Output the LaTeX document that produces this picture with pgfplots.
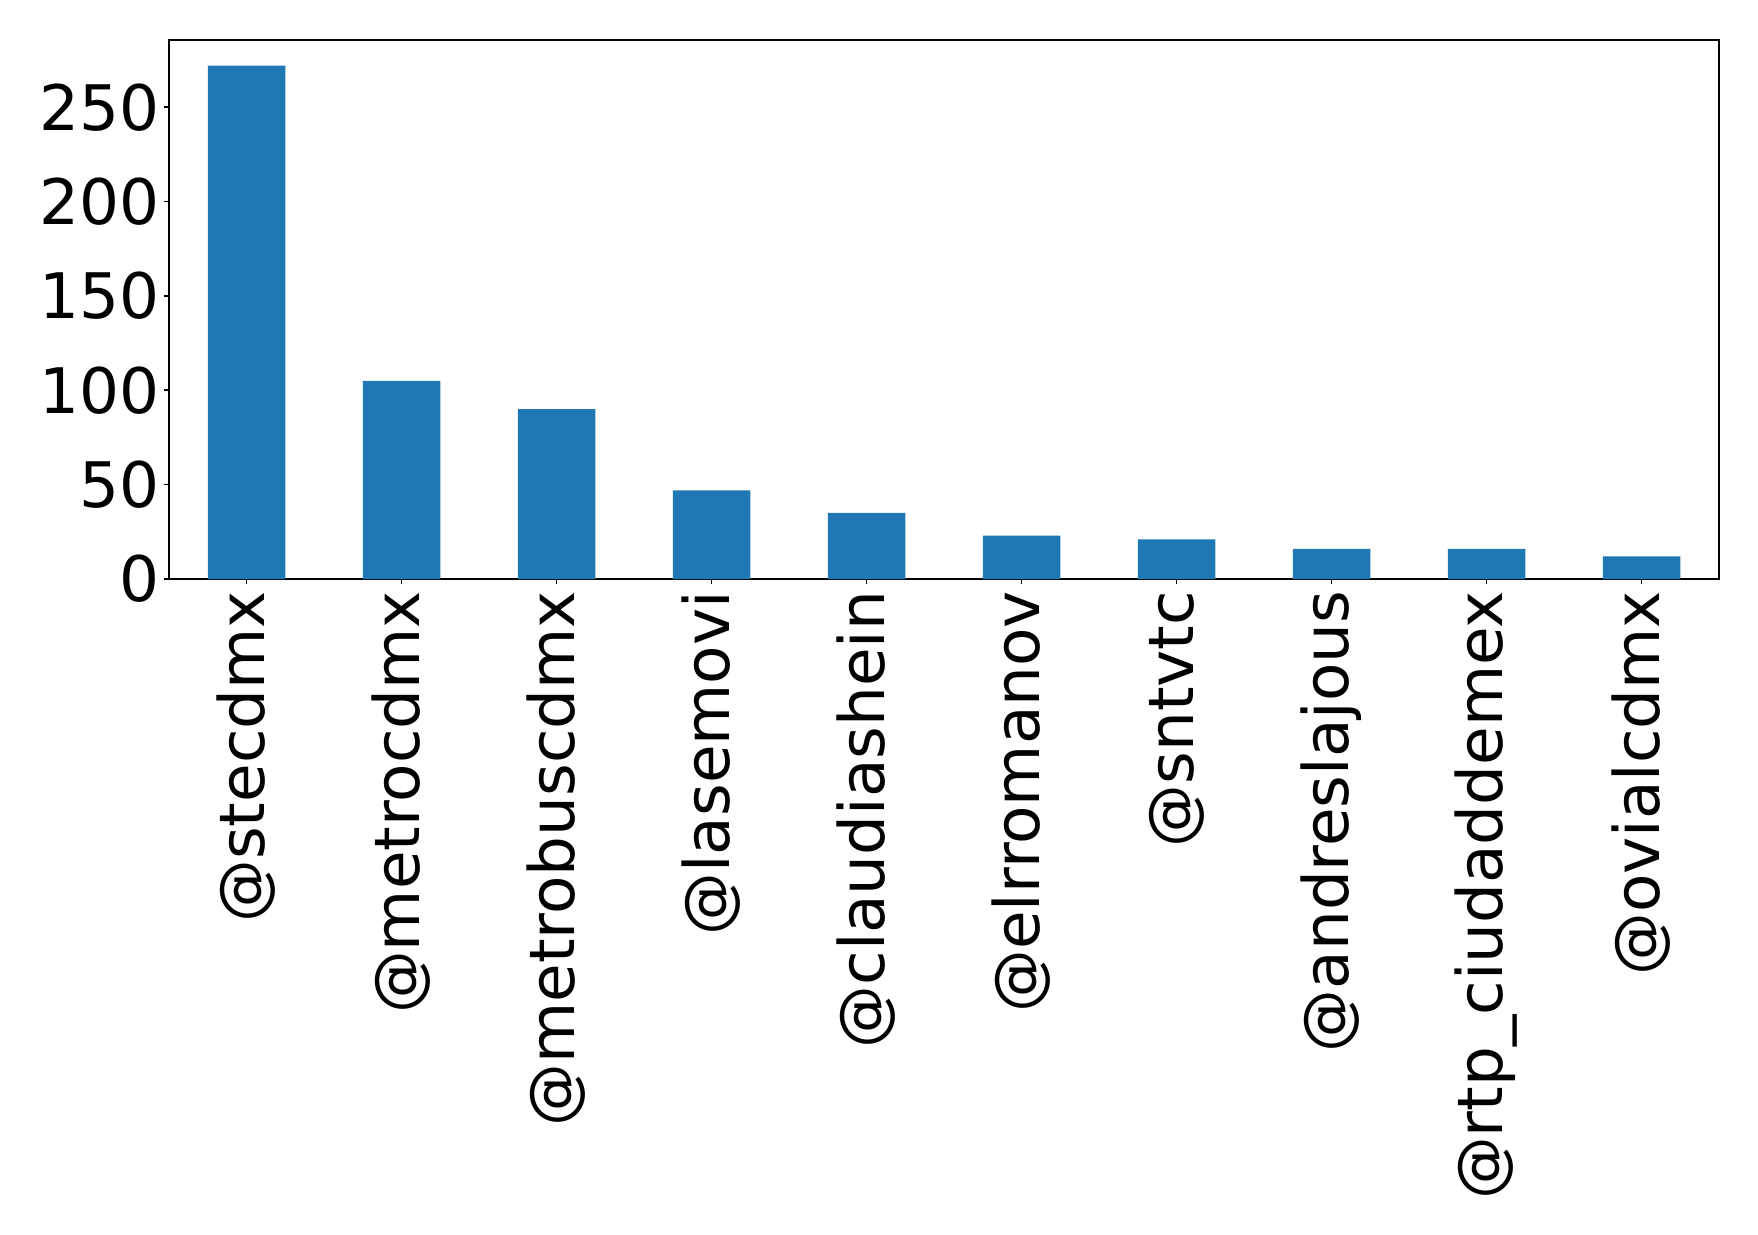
\documentclass[border=0pt]{standalone}
\usepackage{fontspec}
\setmainfont{DejaVu Sans}
\usepackage{pgfplots}
\pgfplotsset{compat=1.18}
\definecolor{mplblue}{HTML}{1F77B4}
\begin{document}
\begin{tikzpicture}
\begin{axis}[
  scale only axis,
  width=387.5pt, height=134.75pt,
  xmin=-0.5, xmax=9.5,
  ymin=0, ymax=285.6,
  ytick={0,50,100,150,200,250},
  xtick={0,...,9},
  xticklabels={@stecdmx,@metrocdmx,@metrobuscdmx,@lasemovi,@claudiashein,@elrromanov,@sntvtc,@andreslajous,@rtp\_ciudaddemex,@ovialcdmx},
  tick align=outside,
  tick pos=left,
  major tick length=1.3pt,
  /pgf/number format/assume math mode=true,
  ticklabel style={font=\fontsize{15.7}{18.8}\selectfont, inner sep=1.5pt},
  xticklabel style={rotate=90, anchor=east, yshift=0pt, xshift=0pt},
  yticklabel style={xshift=0.5pt},
  axis line style={line width=0.4pt},
  every tick/.style={black, line width=0.4pt},
]
\addplot[ybar, bar width=0.5, fill=mplblue, draw=none, bar shift=0pt]
  coordinates {(0,272) (1,105) (2,90) (3,47) (4,35) (5,23) (6,21) (7,16) (8,16) (9,12)};
\end{axis}
\path[use as bounding box] ([xshift=-42.25pt,yshift=-163.75pt]current axis.south west) rectangle ([xshift=9.75pt,yshift=10pt]current axis.north east);
\end{tikzpicture}
\end{document}
